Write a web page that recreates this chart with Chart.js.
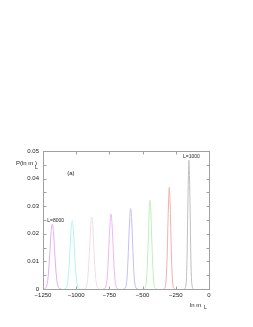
<!DOCTYPE html>
<html><head><meta charset="utf-8">
<script src="https://cdn.jsdelivr.net/npm/chart.js@4"></script>
<style>html,body{margin:0;padding:0;background:#fff}canvas{display:block}</style>
</head><body>
<canvas id="c" width="253" height="327"></canvas>
<script>
const seriesLabels = ["L=8000","L=7000","L=6000","L=5000","L=4000","L=3000","L=2000","L=1000"];
const seriesColors = ["#e2b0f4","#b0f4f4","#f2dce6","#f2b6f2","#c0c0fa","#bcf2bc","#f4b0b0","#c0c0c0"];

const x1 = [-1248,-1240,-1231,-1223,-1214,-1206,-1197,-1189,-1180,-1171,-1163,-1154,-1146,-1137,-1129,-1120,-1112];
const y1 = [0.00001,0.00005,0.00026,0.00103,0.00318,0.00763,0.01425,0.02074,0.0235,0.02074,0.01425,0.00763,0.00318,0.00103,0.00026,0.00005,0.00001];
const x2 = [-1094,-1086,-1078,-1070,-1062,-1054,-1046,-1038,-1030,-1022,-1014,-1006,-998,-990,-982,-974,-966];
const y2 = [0.00001,0.00005,0.00028,0.00109,0.00336,0.00805,0.01504,0.02189,0.0248,0.02189,0.01504,0.00805,0.00336,0.00109,0.00028,0.00005,0.00001];
const x3 = [-944,-937,-929,-921,-914,-906,-898,-891,-883,-875,-868,-860,-852,-845,-837,-829,-822];
const y3 = [0.00001,0.00006,0.00029,0.00114,0.00352,0.00844,0.01577,0.02295,0.026,0.02295,0.01577,0.00844,0.00352,0.00114,0.00029,0.00006,0.00001];
const x4 = [-797,-789,-782,-775,-767,-760,-753,-745,-738,-731,-723,-716,-709,-701,-694,-687,-679];
const y4 = [0.00001,0.00006,0.0003,0.00119,0.00368,0.00883,0.0165,0.024,0.0272,0.024,0.0165,0.00883,0.00368,0.00119,0.0003,0.00006,0.00001];
const x5 = [-645,-638,-631,-624,-617,-611,-604,-597,-590,-583,-576,-569,-563,-556,-549,-542,-535];
const y5 = [0.00001,0.00006,0.00032,0.00128,0.00395,0.00948,0.01771,0.02577,0.0292,0.02577,0.01771,0.00948,0.00395,0.00128,0.00032,0.00006,0.00001];
const x6 = [-494,-487,-481,-475,-469,-463,-456,-450,-444,-438,-432,-425,-419,-413,-407,-401,-394];
const y6 = [0.00001,0.00007,0.00036,0.00141,0.00436,0.01046,0.01953,0.02842,0.0322,0.02842,0.01953,0.01046,0.00436,0.00141,0.00036,0.00007,0.00001];
const x7 = [-342,-337,-331,-326,-321,-315,-310,-304,-299,-294,-288,-283,-277,-272,-267,-261,-256];
const y7 = [0.00001,0.00008,0.00041,0.00162,0.00498,0.01195,0.02232,0.03248,0.0368,0.03248,0.02232,0.01195,0.00498,0.00162,0.00041,0.00008,0.00001];
const x8 = [-185,-181,-177,-172,-168,-164,-160,-155,-151,-147,-142,-138,-134,-130,-125,-121,-117];
const y8 = [0.00001,0.0001,0.00052,0.00205,0.00632,0.01516,0.02832,0.04121,0.0467,0.04121,0.02832,0.01516,0.00632,0.00205,0.00052,0.0001,0.00001];

const xTickValues = [-1250,-1000,-750,-500,-250,0];
const yTickLabels = ["0","0.01","0.02","0.03","0.04","0.05"];

const allX = [x1,x2,x3,x4,x5,x6,x7,x8];
const allY = [y1,y2,y3,y4,y5,y6,y7,y8];

const FONT = '"Liberation Sans", Arial, sans-serif';
const TEXT = '#222';

const datasets = allX.map((xs, k) => ({
  label: seriesLabels[k],
  data: xs.map((x, i) => ({x: x, y: allY[k][i]})),
  borderColor: seriesColors[k],
  borderWidth: 1,
  pointRadius: 0,
  tension: 0.35,
  fill: false
}));

const frame = {
  id: 'frame',
  afterDraw(chart) {
    const ctx = chart.ctx, a = chart.chartArea;
    const xs = chart.scales.x, ys = chart.scales.y;
    ctx.save();
    ctx.strokeStyle = '#a0a0a0';
    ctx.lineWidth = 1;
    const L = Math.round(a.left) + 0.5, R = Math.round(a.right) + 0.5;
    const T = Math.round(a.top) + 0.5, B = Math.round(a.bottom) + 0.5;
    ctx.strokeRect(L, T, R - L, B - T);
    ctx.beginPath();
    xs.ticks.forEach(t => {
      const p = Math.round(xs.getPixelForValue(t.value)) + 0.5;
      ctx.moveTo(p, B); ctx.lineTo(p, B - 3);
      ctx.moveTo(p, T); ctx.lineTo(p, T + 3);
    });
    ys.ticks.forEach(t => {
      const p = Math.round(ys.getPixelForValue(t.value)) + 0.5;
      ctx.moveTo(L, p); ctx.lineTo(L + 3, p);
      ctx.moveTo(R, p); ctx.lineTo(R - 3, p);
    });
    ctx.stroke();

    ctx.fillStyle = TEXT;
    ctx.textBaseline = 'middle';
    ctx.font = '6px ' + FONT;
    ctx.textAlign = 'left';
    ctx.fillText('P(ln m )', a.left - 27, a.top + 12);
    ctx.font = '5px ' + FONT;
    ctx.fillText('L', a.left - 8, a.top + 17);
    ctx.font = '6px ' + FONT;
    ctx.textAlign = 'center';
    ctx.fillText('(a)', xs.getPixelForValue(-1040), ys.getPixelForValue(0.042));
    ctx.font = '5px ' + FONT;
    ctx.fillText('L=8000', xs.getPixelForValue(-1155), ys.getPixelForValue(0.0246));
    ctx.fillText('L=1000', xs.getPixelForValue(-133), ys.getPixelForValue(0.0478));
    ctx.font = '6px ' + FONT;
    ctx.textAlign = 'left';
    ctx.fillText('ln m', a.right - 19, a.bottom + 16);
    ctx.font = '5px ' + FONT;
    ctx.fillText('L', a.right - 5, a.bottom + 19);
    ctx.restore();
  }
};

new Chart(document.getElementById('c'), {
  type: 'line',
  data: { datasets },
  plugins: [frame],
  options: {
    responsive: false,
    animation: false,
    devicePixelRatio: 1,
    layout: { padding: { left: 0, right: 44, top: 151, bottom: 26 } },
    plugins: { legend: { display: false }, tooltip: { enabled: false } },
    scales: {
      x: {
        type: 'linear', min: -1250, max: 0,
        afterBuildTicks(s) { s.ticks = xTickValues.map(v => ({ value: v })); },
        afterFit(s) { s.height = 12; },
        grid: { display: false, drawTicks: false },
        border: { display: false },
        ticks: {
          padding: 3, color: TEXT, maxRotation: 0, autoSkip: false,
          font: { size: 6, family: FONT },
          callback: v => v < 0 ? '\u2212' + Math.abs(v) : '0'
        }
      },
      y: {
        type: 'linear', min: 0, max: 0.05,
        ticks: {
          stepSize: 0.005, padding: 4, color: TEXT, autoSkip: false,
          font: { size: 6, family: FONT },
          callback: (v) => {
            const k = Math.round(v * 200);
            return k % 2 === 0 ? yTickLabels[k / 2] : '';
          }
        },
        afterFit(s) { s.width = 43; },
        grid: { display: false, drawTicks: false },
        border: { display: false }
      }
    }
  }
});
</script>
</body></html>
